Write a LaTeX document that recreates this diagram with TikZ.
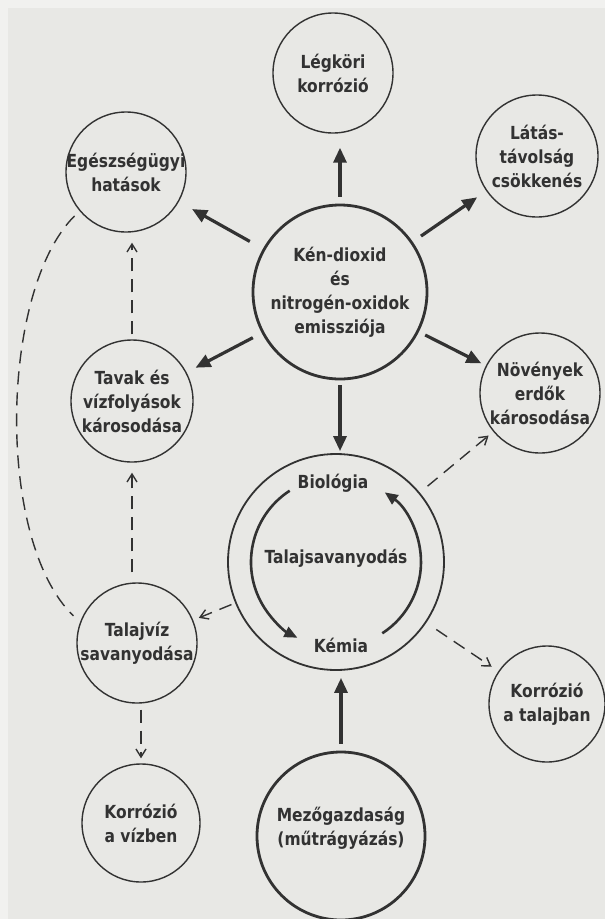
\documentclass[tikz,border=0pt]{standalone}
\usepackage{fontspec}
\setmainfont{DejaVu Sans}[FakeStretch=0.86]
\usetikzlibrary{arrows.meta}
\definecolor{paper}{RGB}{232,232,229}
\definecolor{margin}{RGB}{241,241,239}
\definecolor{ink}{RGB}{50,50,50}

\begin{document}
\begin{tikzpicture}[x=1pt,y=-1pt,
  ring/.style={circle,draw=ink,line width=1.4pt,inner sep=0pt,minimum size=#1},
  ring/.default=120pt,
  txt/.style={align=center,text=ink,inner sep=0pt,font=\bfseries\fontsize{18}{24}\selectfont},
  bigarrow/.style={draw=ink,line width=3.2pt,-{Triangle[length=15pt,width=13pt]}},
  cyclearrow/.style={draw=ink,line width=2.6pt,-{Triangle[length=13pt,width=11pt]}},
  dashline/.style={draw=ink,line width=1.4pt,dash pattern=on 13pt off 8pt},
  dasharrow/.style={dashline,-{Straight Barb[length=8pt,width=10pt]}}]
\useasboundingbox (0,0) rectangle (605,919);
\fill[paper] (0,0) rectangle (605,919);
\fill[margin] (0,0) rectangle (605,8);
\fill[margin] (0,0) rectangle (8,919);

\node[ring=174pt,line width=2.8pt,label={[txt]center:Kén-dioxid\\és\\nitrogén-oxidok\\emissziója}] (kendiox) at (340,292) {};
\node[ring,label={[txt]center:Légköri\\korrózió}] (legkor) at (333,73) {};
\node[ring=122pt,label={[txt]center:Látás-\\távolság\\csökkenés}] (latas) at (537,156) {};
\node[ring,label={[txt]center:Egészségügyi\\hatások}] (egesz) at (126,172) {};
\node[ring=122pt,label={[txt]center:Tavak és\\vízfolyások\\károsodása}] (tavak) at (132,401) {};
\node[ring,label={[txt]center:Növények\\erdők\\károsodása}] (noveny) at (540,393) {};
\node[ring=216pt,line width=1.8pt] (talaj) at (336,562) {};
\node[txt] (bio) at ([xshift=-3pt,yshift=79pt]talaj.center) {Biológia};
\node[txt] (savany) at ([yshift=4pt]talaj.center) {Talajsavanyodás};
\node[txt] (kemia) at ([xshift=5pt,yshift=-83pt]talaj.center) {Kémia};
\node[ring,label={[txt]center:Talajvíz\\savanyodása}] (talajviz) at (137,643) {};
\node[ring=116pt,label={[txt]center:Korrózió\\a talajban}] (korrtal) at (547,704) {};
\node[ring=118pt,label={[txt]center:Korrózió\\a vízben}] (korrviz) at (141,823) {};
\node[ring=168pt,line width=2.8pt,label={[txt,yshift=8pt]center:Mezőgazdaság\\(műtrágyázás)}] (mezo) at (341,836) {};

\draw[bigarrow,shorten <=7pt,shorten >=14pt] (kendiox.north) -- (kendiox.north |- legkor.south);
\draw[bigarrow,shorten <=15pt,shorten >=15pt] (kendiox) -- (egesz);
\draw[bigarrow,shorten <=10pt,shorten >=11pt] (kendiox) -- (latas);
\draw[bigarrow,shorten <=10pt,shorten >=10pt] (kendiox) -- (tavak);
\draw[bigarrow,shorten <=7pt,shorten >=5pt] (kendiox) -- (noveny);
\draw[bigarrow,shorten <=5pt,shorten >=2pt] (kendiox.south) -- (kendiox.south |- talaj.north);
\draw[bigarrow,shorten <=7pt,shorten >=7pt] (mezo.north) -- (mezo.north |- talaj.south);

\draw[cyclearrow] ([shift={(123:85pt)}]talaj.center) arc[start angle=123,end angle=243,radius=85pt];
\draw[cyclearrow] ([shift={(-57:85pt)}]talaj.center) arc[start angle=-57,end angle=55,radius=85pt];

\draw[dasharrow,shorten <=5pt,shorten >=10pt] (tavak.north) -- (tavak.north |- egesz.south);
\draw[dasharrow,shorten <=10pt,shorten >=10pt] (tavak.south |- talajviz.north) -- (tavak.south);
\draw[dasharrow,shorten <=6pt,shorten >=5pt] (korrviz.north |- talajviz.south) -- (korrviz.north);
\draw[dasharrow,shorten <=4pt,shorten >=6pt] (talaj) -- (talajviz);
\draw[dasharrow,shorten <=10pt,shorten >=6pt] (talaj) -- (noveny);
\draw[dasharrow,shorten <=12pt,shorten >=8pt] (talaj) -- (korrtal);
\draw[dashline,shorten <=7pt,shorten >=9pt] (egesz.220) .. controls (0,290) and (-5,540) .. (talajviz.160);
\end{tikzpicture}
\end{document}
